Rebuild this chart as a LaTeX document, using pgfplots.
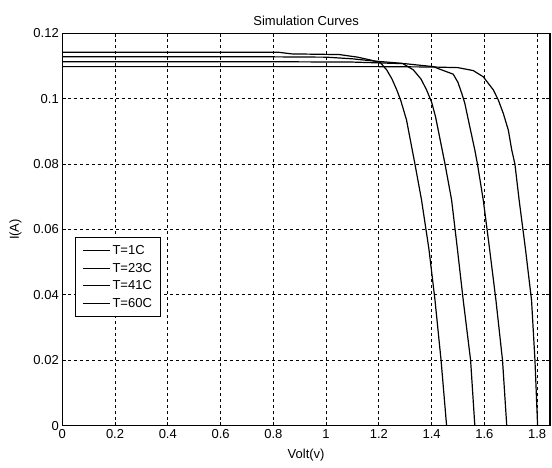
\documentclass[border=0pt]{standalone}
\usepackage{pgfplots}
\pgfplotsset{compat=1.18}
\usepackage{fontspec}
\setmainfont{Liberation Sans}
\begin{document}
\begin{tikzpicture}
\begin{axis}[
  name=ax,
  scale only axis,
  width=487.7pt, height=392.4pt,
  xmin=0, xmax=1.849, ymin=0, ymax=0.12,
  xtick={0,0.2,0.4,0.6,0.8,1,1.2,1.4,1.6,1.8},
  ytick={0,0.02,0.04,0.06,0.08,0.1,0.12},
  /pgf/number format/assume math mode=true,
  /pgf/number format/fixed, /pgf/number format/precision=2,
  scaled y ticks=false,
  ticklabel style={font=\fontsize{13}{15}\selectfont},
  label style={font=\fontsize{13}{15}\selectfont},
  title style={font=\fontsize{13}{15}\selectfont, yshift=-2pt},
  title={Simulation Curves},
  xlabel={Volt(v)}, ylabel={I(A)},
  xlabel style={yshift=-4pt},
  ylabel style={yshift=5pt},
  grid=major,
  major grid style={black, line width=1pt, dash pattern=on 3pt off 3pt},
  axis line style={black, line width=1.3pt},
  tick style={black, line width=1pt},
  tick align=inside, major tick length=4pt,
  cycle list={black\\},
  every axis plot/.append style={line width=1.2pt},
  legend style={at={(0.026,0.481)}, anchor=north west, draw=black, line width=1pt,
    font=\fontsize{13}{15}\selectfont, row sep=3pt, inner xsep=7pt, inner ysep=6pt,
    legend cell align=left},
  legend image code/.code={\draw[#1, line width=1pt] (0cm,0cm) -- (0.95cm,0cm);},
]
% T=1C
\addplot coordinates {(0,0.1098) (0.8,0.1098) (1.2,0.1098) (1.4,0.1097) (1.5,0.1095) (1.558,0.1086) (1.596,0.1067) (1.634,0.1027) (1.653,0.0996) (1.672,0.0955) (1.691,0.0904) (1.704,0.0843) (1.716,0.080) (1.732,0.069) (1.756,0.054) (1.779,0.0384) (1.792,0.020) (1.802,0)};
\addlegendentry{T=1C}
% T=23C
\addplot coordinates {(0,0.1113) (0.8,0.1113) (1.1,0.1112) (1.3,0.1107) (1.407,0.1098) (1.432,0.1090) (1.482,0.1075) (1.500,0.1050) (1.515,0.1015) (1.526,0.0986) (1.545,0.0914) (1.564,0.0843) (1.574,0.080) (1.596,0.069) (1.620,0.054) (1.644,0.0384) (1.669,0.020) (1.685,0)};
\addlegendentry{T=23C}
% T=41C
\addplot coordinates {(0,0.1128) (0.8,0.1128) (1.0,0.1127) (1.1,0.1122) (1.17,0.1116) (1.29,0.1108) (1.331,0.1088) (1.360,0.1060) (1.381,0.1027) (1.400,0.0990) (1.415,0.0945) (1.451,0.080) (1.476,0.069) (1.498,0.054) (1.520,0.0384) (1.548,0.020) (1.564,0)};
\addlegendentry{T=41C}
% T=60C
\addplot coordinates {(0,0.1142) (0.82,0.1142) (0.87,0.1137) (1.05,0.1135) (1.12,0.1127) (1.17,0.1118) (1.205,0.1111) (1.23,0.1088) (1.25,0.1060) (1.268,0.1027) (1.283,0.0995) (1.305,0.0935) (1.337,0.080) (1.362,0.069) (1.390,0.054) (1.413,0.0384) (1.436,0.020) (1.457,0)};
\addlegendentry{T=60C}
\end{axis}
\pgfresetboundingbox
\path ([shift={(-62.3pt,-42.3pt)}]ax.south west) rectangle ([shift={(2pt,33.3pt)}]ax.north east);
\end{tikzpicture}
\end{document}
